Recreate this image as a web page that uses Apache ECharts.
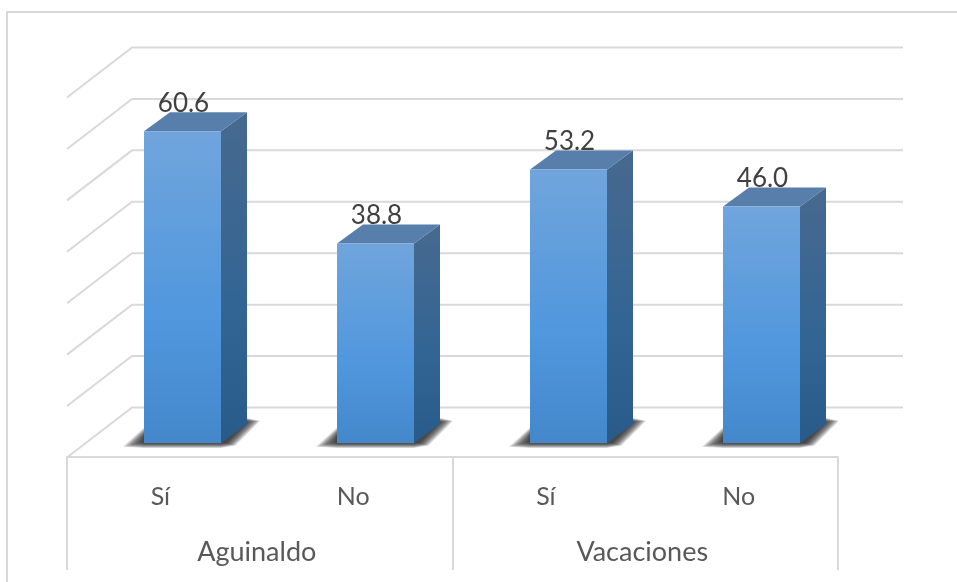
<!DOCTYPE html>
<html>
<head>
<meta charset="utf-8">
<style>html,body{margin:0;padding:0;background:#fff}#main{width:957px;height:582px}</style>
<script src="https://cdn.jsdelivr.net/npm/echarts@6/dist/echarts.min.js"></script>
</head>
<body>
<div id="main"></div>
<script>
var categories = ['Sí', 'No', 'Sí', 'No'];
var groups = ['Aguinaldo', 'Vacaciones'];
var values = [60.6, 38.8, 53.2, 46.0];
var ticks = [0, 10, 20, 30, 40, 50, 60, 70];

var FONT = 'Lato, "Open Sans", sans-serif';
// profundidad de la caja 3D
var BACK_X = 46, BACK_Y = -35.5;
var FRONT_X = -19, FRONT_Y = 14.5;
var DEPTH_X = 26, DEPTH_Y = -19;
var BAR_W = 77;
var GRID_COLOR = '#d9d9d9';

function vgrad(a, b, c) {
    return new echarts.graphic.LinearGradient(0, 0, 0, 1, [
        {offset: 0, color: a},
        {offset: 0.6, color: b},
        {offset: 1, color: c}
    ]);
}

// lineas del fondo y diagonales de la pared izquierda
function renderWall(params, api) {
    var y = api.coord([0, api.value(1)])[1];
    var sys = params.coordSys;
    var left = sys.x + BACK_X;
    var right = sys.x + sys.width + BACK_X - 1;
    return {
        type: 'polyline',
        shape: {points: [[sys.x + FRONT_X, y + FRONT_Y], [left, y + BACK_Y], [right, y + BACK_Y]]},
        style: {fill: null, stroke: GRID_COLOR, lineWidth: 2},
        silent: true
    };
}

// sombra difusa sobre el piso, capas superpuestas
function shadowLayers(l, r, by) {
    var out = [];
    for (var d = 12; d >= 0; d--) {
        out.push({
            type: 'polygon',
            shape: {points: [
                [l - 2 - 1.6 * d, by + 0.4 * d - 1],
                [l, by + 0.42 * d],
                [r, by + 0.42 * d],
                [r + 5 + d * 0.8, by + 0.2 * d],
                [r + 26 + d * 1.1, by - 21 - d * 0.1],
                [r + 18, by - 23 - d * 0.3],
                [l, by - 7 - d * 0.7]
            ]},
            style: {fill: 'rgba(25,25,25,0.115)'},
            silent: true
        });
    }
    return out;
}

function renderBar(params, api) {
    var base = api.coord([api.value(0), 0]);
    var top = api.coord([api.value(0), api.value(1)]);
    var l = base[0] - BAR_W / 2, r = base[0] + BAR_W / 2;
    var by = base[1], ty = top[1];
    return {
        type: 'group',
        children: shadowLayers(l, r, by).concat([
            {
                type: 'polygon',
                shape: {points: [[r, ty], [r + DEPTH_X, ty + DEPTH_Y], [r + DEPTH_X, by + DEPTH_Y], [r, by]]},
                style: {fill: vgrad('#47698f', '#326594', '#285a8a')}
            },
            {
                type: 'polygon',
                shape: {points: [[l, ty], [l + DEPTH_X, ty + DEPTH_Y], [r + DEPTH_X, ty + DEPTH_Y], [r, ty]]},
                style: {fill: '#587fab'}
            },
            {
                type: 'rect',
                shape: {x: l, y: ty, width: BAR_W, height: by - ty},
                style: {fill: vgrad('#70a5dc', '#5097dd', '#4488cb')}
            },
            {
                type: 'text',
                x: base[0] + 1,
                y: ty - 27.5,
                style: {
                    text: values[params.dataIndex].toFixed(1),
                    font: '26px ' + FONT,
                    fill: '#404040',
                    align: 'center',
                    verticalAlign: 'middle'
                }
            }
        ])
    };
}

var wallData = [];
for (var i = 0; i < ticks.length; i++) {
    wallData.push([0, ticks[i]]);
}
var barData = [];
for (var j = 0; j < values.length; j++) {
    barData.push([j, values[j]]);
}

var option = {
    animation: false,
    backgroundColor: '#fff',
    graphic: [{
        type: 'polyline',
        shape: {points: [[7, 582], [7, 12], [957, 12]]},
        style: {fill: null, stroke: GRID_COLOR, lineWidth: 2},
        silent: true
    }],
    grid: [
        {left: 86, width: 772, top: 83, height: 360},
        {left: 67, width: 771, top: 457, height: 113}
    ],
    xAxis: [
        {
            gridIndex: 0,
            type: 'category',
            data: categories,
            show: false
        },
        {
            gridIndex: 1,
            type: 'category',
            position: 'top',
            data: categories,
            axisLine: {show: true, onZero: false, lineStyle: {color: GRID_COLOR, width: 2}},
            axisTick: {show: false},
            splitLine: {show: false},
            axisLabel: {
                inside: true,
                interval: 0,
                margin: 27,
                padding: [0, 6, 0, 0],
                color: '#595959',
                fontFamily: FONT,
                fontSize: 25
            }
        },
        {
            gridIndex: 1,
            type: 'category',
            position: 'top',
            data: groups,
            axisLine: {show: false, onZero: false},
            axisTick: {show: false},
            splitLine: {show: true, interval: 0, lineStyle: {color: GRID_COLOR, width: 2}},
            axisLabel: {
                inside: true,
                interval: 0,
                margin: 82,
                padding: [0, 6, 0, 0],
                color: '#595959',
                fontFamily: FONT,
                fontSize: 27
            }
        }
    ],
    yAxis: [
        {gridIndex: 0, type: 'value', min: 0, max: 70, interval: 10, show: false},
        {gridIndex: 1, type: 'value', min: 0, max: 1, show: false}
    ],
    series: [
        {
            type: 'custom',
            xAxisIndex: 0,
            yAxisIndex: 0,
            renderItem: renderWall,
            data: wallData,
            clip: false,
            z: 1
        },
        {
            type: 'custom',
            xAxisIndex: 0,
            yAxisIndex: 0,
            renderItem: renderBar,
            data: barData,
            clip: false,
            z: 2
        }
    ]
};

var myChart = echarts.init(document.getElementById('main'));
myChart.setOption(option);
</script>
</body>
</html>
